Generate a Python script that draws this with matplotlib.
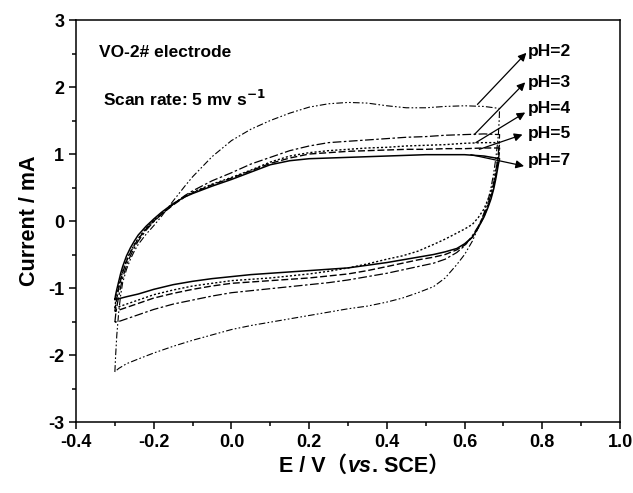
import numpy as np
import matplotlib
matplotlib.use("Agg")
from matplotlib import pyplot as plt
from matplotlib.offsetbox import TextArea, HPacker, AnchoredOffsetbox
from matplotlib.ticker import MultipleLocator

plt.rcParams['font.family'] = ['Liberation Sans', 'Noto Sans CJK SC']
plt.rcParams['font.weight'] = 'bold'
plt.rcParams['axes.unicode_minus'] = False

# potential grids (V vs. SCE): anodic sweep and cathodic sweep
E_up = [-0.3, -0.298, -0.295, -0.29, -0.285, -0.28, -0.27, -0.26, -0.25, -0.24,
        -0.22, -0.2, -0.18, -0.15, -0.12, -0.1, -0.05, 0.0, 0.05, 0.1, 0.15,
        0.2, 0.25, 0.3, 0.35, 0.4, 0.45, 0.5, 0.55, 0.6, 0.65, 0.69]
E_dn = [0.69, 0.689, 0.687, 0.684, 0.68, 0.675, 0.668, 0.66, 0.65, 0.635, 0.62,
        0.6, 0.58, 0.55, 0.52, 0.48, 0.44, 0.4, 0.35, 0.3, 0.25, 0.2, 0.15, 0.1,
        0.05, 0.0, -0.05, -0.1, -0.15, -0.2, -0.24, -0.27, -0.29, -0.3]

# current (mA)
ph2_up = [-2.25, -2.0, -1.7, -1.35, -1.1, -0.92, -0.72, -0.57, -0.45, -0.35,
          -0.2, -0.07, 0.07, 0.3, 0.52, 0.66, 0.96, 1.2, 1.37, 1.5, 1.61,
          1.7, 1.75, 1.77, 1.76, 1.72, 1.69, 1.69, 1.71, 1.72, 1.71, 1.68]
ph2_dn = [1.68, 1.5, 1.3, 1.12, 0.92, 0.72, 0.5, 0.3, 0.12, -0.1, -0.3,
          -0.5, -0.65, -0.85, -0.98, -1.07, -1.15, -1.21, -1.27, -1.31, -1.36,
          -1.41, -1.46, -1.51, -1.56, -1.62, -1.7, -1.78, -1.87, -1.97, -2.06,
          -2.13, -2.2, -2.25]

ph3_up = [-1.51, -1.4, -1.28, -1.12, -0.98, -0.85, -0.66, -0.52, -0.4, -0.3,
          -0.14, -0.01, 0.1, 0.25, 0.38, 0.45, 0.6, 0.72, 0.85, 0.95, 1.05,
          1.12, 1.17, 1.19, 1.21, 1.23, 1.25, 1.26, 1.28, 1.29, 1.3, 1.29]
ph3_dn = [1.29, 1.15, 1.02, 0.88, 0.73, 0.57, 0.4, 0.25, 0.1, -0.08, -0.22,
          -0.37, -0.47, -0.57, -0.63, -0.68, -0.73, -0.78, -0.83, -0.88, -0.92,
          -0.95, -0.98, -1.01, -1.04, -1.07, -1.12, -1.18, -1.24, -1.32, -1.4,
          -1.46, -1.5, -1.51]

ph4_up = [-1.3, -1.2, -1.1, -0.97, -0.86, -0.75, -0.58, -0.46, -0.35, -0.26,
          -0.11, 0.01, 0.11, 0.25, 0.37, 0.43, 0.55, 0.65, 0.76, 0.88, 0.97,
          1.02, 1.05, 1.07, 1.09, 1.1, 1.12, 1.13, 1.14, 1.16, 1.17, 1.17]
ph4_dn = [1.17, 1.1, 1.0, 0.88, 0.75, 0.6, 0.45, 0.32, 0.18, 0.05, -0.05,
          -0.12, -0.18, -0.27, -0.35, -0.45, -0.52, -0.57, -0.64, -0.7, -0.75,
          -0.79, -0.82, -0.85, -0.87, -0.89, -0.93, -0.97, -1.03, -1.1, -1.18,
          -1.24, -1.28, -1.3]

ph5_up = [-1.35, -1.25, -1.15, -1.0, -0.88, -0.77, -0.6, -0.47, -0.36, -0.27,
          -0.12, 0.0, 0.1, 0.24, 0.36, 0.42, 0.54, 0.64, 0.75, 0.86, 0.94,
          1.0, 1.02, 1.04, 1.05, 1.06, 1.07, 1.07, 1.08, 1.08, 1.09, 1.09]
ph5_dn = [1.09, 1.0, 0.92, 0.8, 0.67, 0.52, 0.36, 0.22, 0.07, -0.1, -0.24,
          -0.36, -0.43, -0.5, -0.54, -0.58, -0.63, -0.68, -0.74, -0.79, -0.82,
          -0.85, -0.87, -0.89, -0.91, -0.93, -0.97, -1.02, -1.08, -1.15, -1.23,
          -1.29, -1.33, -1.35]

ph7_up = [-1.17, -1.1, -1.02, -0.9, -0.78, -0.68, -0.52, -0.4, -0.3, -0.21,
          -0.08, 0.03, 0.13, 0.26, 0.36, 0.41, 0.52, 0.62, 0.73, 0.84, 0.9,
          0.93, 0.94, 0.95, 0.96, 0.97, 0.98, 0.99, 0.99, 0.99, 0.97, 0.93]
ph7_dn = [0.93, 0.9, 0.85, 0.75, 0.62, 0.48, 0.33, 0.2, 0.06, -0.1, -0.24,
          -0.34, -0.41, -0.46, -0.5, -0.54, -0.58, -0.62, -0.66, -0.7, -0.72,
          -0.74, -0.76, -0.78, -0.8, -0.83, -0.86, -0.9, -0.95, -1.02, -1.09,
          -1.13, -1.16, -1.17]

labels = ["pH=2", "pH=3", "pH=4", "pH=5", "pH=7"]
styles = [(0, (6, 2, 1.5, 2, 1.5, 2)), (0, (7, 2, 2, 2)), (0, (1.5, 1.5)),
          (0, (5, 2)), '-']
widths = [0.8, 0.9, 1.0, 1.0, 1.1]
ups = [ph2_up, ph3_up, ph4_up, ph5_up, ph7_up]
dns = [ph2_dn, ph3_dn, ph4_dn, ph5_dn, ph7_dn]

# arrow tail on curve, arrow head / label position
tails = [(0.633, 1.74), (0.625, 1.29), (0.629, 1.17), (0.638, 1.07), (0.616, 0.99)]
heads = [(0.759, 2.51), (0.756, 2.07), (0.756, 1.62), (0.749, 1.29), (0.753, 0.82)]
texts = [(0.762, 2.53), (0.762, 2.07), (0.762, 1.68), (0.762, 1.31), (0.762, 0.91)]

fig = plt.figure(figsize=(6.33, 4.93), dpi=100)
ax = fig.add_axes([0.1201, 0.1440, 0.8594, 0.8154])

for up, dn, ls, lw in zip(ups, dns, styles, widths):
    E = np.concatenate([E_up, E_dn])
    I = np.concatenate([up, dn])
    ax.plot(E, I, color='black', linestyle=ls, linewidth=lw)

for lab, t, h, p in zip(labels, tails, heads, texts):
    ax.annotate('', xy=h, xytext=t,
                arrowprops=dict(arrowstyle='-|>', color='black', lw=0.9,
                                mutation_scale=12, shrinkA=0, shrinkB=0))
    ax.text(p[0], p[1], lab, fontsize=12.5, fontweight='bold', ha='left', va='center')

ax.text(-0.34, 2.52, "VO-2# electrode", fontsize=12.5, fontweight='bold', va='center')
ax.text(-0.331, 1.82, r"Scan rate: 5 mv s$^{\mathbf{-1}}$", fontsize=12.5,
        fontweight='bold', va='center')

ax.set_xlim(-0.4, 1.0)
ax.set_ylim(-3, 3)
ax.xaxis.set_major_locator(MultipleLocator(0.2))
ax.xaxis.set_minor_locator(MultipleLocator(0.1))
ax.yaxis.set_major_locator(MultipleLocator(1))
ax.yaxis.set_minor_locator(MultipleLocator(0.5))
ax.xaxis.set_major_formatter(plt.FuncFormatter(lambda v, p: "%.1f" % v))
ax.tick_params(which='both', direction='out', top=False, right=False, width=1.1)
ax.tick_params(which='major', length=5, labelsize=13)
ax.tick_params(which='minor', length=3)
for lab in ax.get_xticklabels() + ax.get_yticklabels():
    lab.set_fontweight('bold')
for s in ax.spines.values():
    s.set_linewidth(1.1)

ax.set_ylabel("Current / mA", fontsize=15.5, fontweight='bold', labelpad=6)

tp = dict(size=15.5, weight='bold', family=['Liberation Sans', 'Noto Sans CJK SC'])
tpi = dict(size=15.5, weight='bold', style='italic', family='Liberation Sans')
box = HPacker(children=[TextArea("E / V（", textprops=tp),
                        TextArea("vs", textprops=tpi),
                        TextArea(". SCE）", textprops=tp)],
              align='baseline', pad=0, sep=0)
ab = AnchoredOffsetbox(loc='upper center', child=box, pad=0, borderpad=0,
                       frameon=False, bbox_to_anchor=(0.53, -0.085),
                       bbox_transform=ax.transAxes)
ax.add_artist(ab)

fig.savefig("out.png", dpi=100)
